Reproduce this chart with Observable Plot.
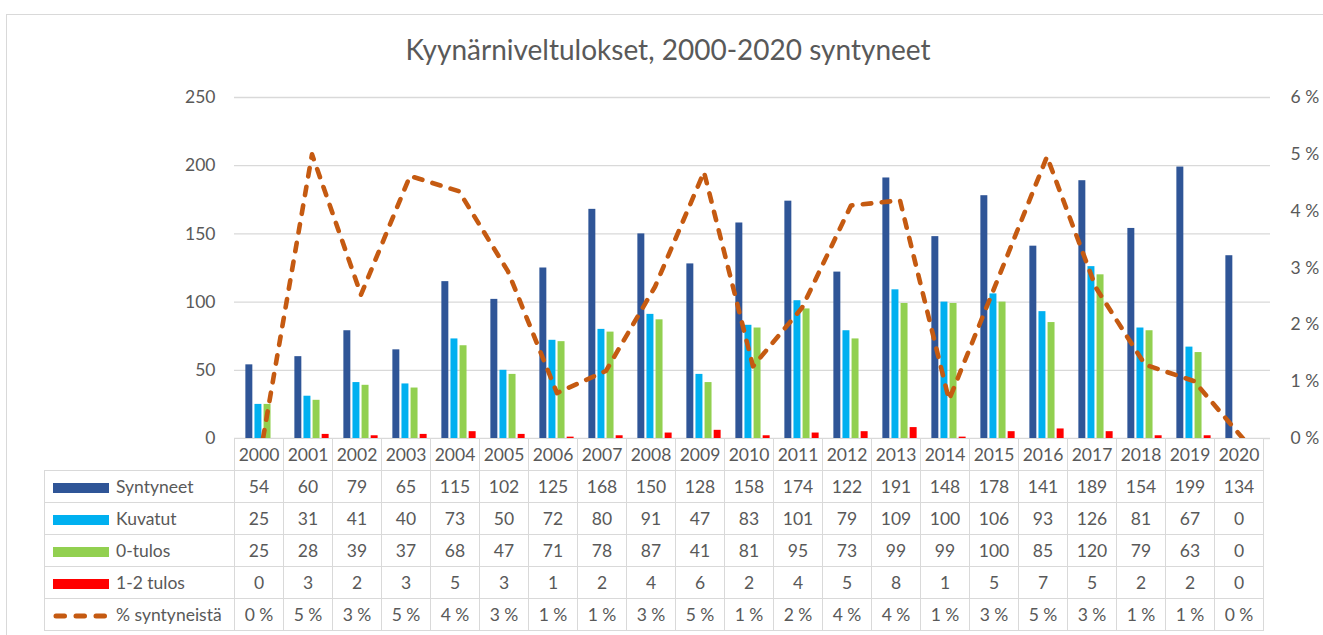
<!DOCTYPE html>
<html>
<head>
<meta charset="utf-8">
<script src="https://cdn.jsdelivr.net/npm/d3@7"></script>
<script src="https://cdn.jsdelivr.net/npm/@observablehq/plot@0.6"></script>
<style>
  html, body { margin: 0; padding: 0; background: #fff; }
  body { width: 1323px; height: 635px; position: relative; overflow: hidden; font-family: Lato, "Open Sans", sans-serif; color: #595959; }
  #frame { position: absolute; left: 6px; top: 14px; width: 1400px; height: 700px; border: 1px solid #d9d9d9; box-sizing: border-box; }
  #title { position: absolute; left: 0; top: 32px; width: 1336px; text-align: center; font-size: 28px; color: #595959; }
  #chart { position: absolute; left: 0; top: 80px; }
  #tbl { position: absolute; left: 44px; top: 438px; border-collapse: collapse; table-layout: fixed; font-size: 17.5px; color: #595959; background: transparent; }
  #tbl td { border: 1px solid #d9d9d9; text-align: center; padding: 0; height: 31px; white-space: nowrap; overflow: hidden; background: #fff; }
  #tbl td.blank { border: none; border-right: 1px solid #d9d9d9; background: transparent; }
  #tbl td.lab { text-align: left; padding-left: 8px; }
  .sw { display: inline-block; width: 56px; height: 10px; vertical-align: middle; margin-right: 7px; position: relative; top: -1px; }
</style>
</head>
<body>
<div id="frame"></div>
<div id="title">Kyynärniveltulokset, 2000-2020 syntyneet</div>
<div id="chart"></div>
<table id="tbl"></table>
<script>
const years = ["2000","2001","2002","2003","2004","2005","2006","2007","2008","2009","2010","2011","2012","2013","2014","2015","2016","2017","2018","2019","2020"];
const syntyneet = [54,60,79,65,115,102,125,168,150,128,158,174,122,191,148,178,141,189,154,199,134];
const kuvatut   = [25,31,41,40,73,50,72,80,91,47,83,101,79,109,100,106,93,126,81,67,0];
const tulos0    = [25,28,39,37,68,47,71,78,87,41,81,95,73,99,99,100,85,120,79,63,0];
const tulos12   = [0,3,2,3,5,3,1,2,4,6,2,4,5,8,1,5,7,5,2,2,0];
const pctSyntyneista = [0,5.00,2.53,4.62,4.35,2.94,0.80,1.19,2.67,4.69,1.27,2.30,4.10,4.19,0.68,2.81,4.96,2.65,1.30,1.01,0];
const seriesNames = ["Syntyneet","Kuvatut","0-tulos","1-2 tulos","% syntyneistä"];
const seriesColors = ["#2F5597","#00B0F0","#92D050","#FF0000","#C55A11"];
const leftTicks = [0,50,100,150,200,250];
const rightTicks = [0,1,2,3,4,5,6];

const leftMax = 250, rightMax = 6;
const toLeft = p => p * leftMax / rightMax;

const barSeries = [syntyneet, kuvatut, tulos0, tulos12];
const rows = [];
barSeries.forEach((arr, s) => arr.forEach((v, i) => rows.push({year: years[i], value: v, s})));
const lineData = years.map((y, i) => ({year: y, pct: pctSyntyneista[i]}));

const W = 1323, mL = 234, mR = 53;
const band = (W - mL - mR) / years.length;
const barW = 7.3, barStep = 9.1;
const start = (band - (3 * barStep + barW)) / 2;

const barMarks = barSeries.map((arr, s) => {
  const off = start + s * barStep;
  return Plot.barY(rows.filter(r => r.s === s), {
    x: "year", y: "value", fill: seriesColors[s],
    insetLeft: off, insetRight: band - off - barW
  });
});

const chart = Plot.plot({
  width: W, height: 372,
  marginTop: 17, marginBottom: 14, marginLeft: mL, marginRight: mR,
  style: {fontFamily: "Lato, 'Open Sans', sans-serif", fontSize: "17.5px", color: "#595959", background: "transparent", overflow: "visible"},
  x: {type: "band", domain: years, padding: 0, axis: null},
  y: {domain: [0, leftMax], axis: null},
  marks: [
    Plot.gridY(leftTicks, {stroke: "#d9d9d9", strokeOpacity: 1, strokeWidth: 1.3}),
    Plot.axisY({anchor: "left", ticks: leftTicks, tickSize: 0, tickPadding: 19, fill: "#595959", label: null}),
    Plot.axisY({anchor: "right", ticks: rightTicks.map(toLeft), tickSize: 0, tickPadding: 20, fill: "#595959", label: null,
      tickFormat: d => Math.round(d * rightMax / leftMax) + " %"}),
    ...barMarks,
    Plot.line(lineData, {x: "year", y: d => toLeft(d.pct), stroke: seriesColors[4], strokeWidth: 4.6,
      strokeDasharray: "8.5,10.5", strokeLinecap: "round", strokeLinejoin: "round"})
  ]
});
document.getElementById("chart").appendChild(chart);

// data table below the chart, columns aligned with the chart's x scale
const xs = chart.scale("x");
const colW = xs.bandwidth;
const tbl = document.getElementById("tbl");
const cg = document.createElement("colgroup");
let c0 = document.createElement("col"); c0.style.width = (mL - 44) + "px"; cg.appendChild(c0);
years.forEach(() => { const c = document.createElement("col"); c.style.width = colW + "px"; cg.appendChild(c); });
tbl.appendChild(cg);
tbl.style.width = (mL - 44 + colW * years.length) + "px";

let tr = document.createElement("tr");
let td = document.createElement("td"); td.className = "blank"; tr.appendChild(td);
years.forEach(y => { const t = document.createElement("td"); t.textContent = y; tr.appendChild(t); });
tbl.appendChild(tr);

const tableSeries = [syntyneet, kuvatut, tulos0, tulos12, pctSyntyneista.map(p => Math.round(p) + " %")];
seriesNames.forEach((name, s) => {
  const r = document.createElement("tr");
  const l = document.createElement("td"); l.className = "lab";
  if (s < 4) {
    const sw = document.createElement("span"); sw.className = "sw"; sw.style.background = seriesColors[s];
    l.appendChild(sw);
  } else {
    const ns = "http://www.w3.org/2000/svg";
    const svg = document.createElementNS(ns, "svg");
    svg.setAttribute("width", 56); svg.setAttribute("height", 10); svg.setAttribute("class", "sw");
    svg.style.height = "10px";
    const ln = document.createElementNS(ns, "line");
    ln.setAttribute("x1", 3); ln.setAttribute("x2", 56); ln.setAttribute("y1", 5); ln.setAttribute("y2", 5);
    ln.setAttribute("stroke", seriesColors[4]); ln.setAttribute("stroke-width", 5);
    ln.setAttribute("stroke-dasharray", "8.5,11.5"); ln.setAttribute("stroke-linecap", "round");
    svg.appendChild(ln);
    l.appendChild(svg);
  }
  l.appendChild(document.createTextNode(name));
  r.appendChild(l);
  tableSeries[s].forEach(v => { const t = document.createElement("td"); t.textContent = v; r.appendChild(t); });
  tbl.appendChild(r);
});
</script>
</body>
</html>
